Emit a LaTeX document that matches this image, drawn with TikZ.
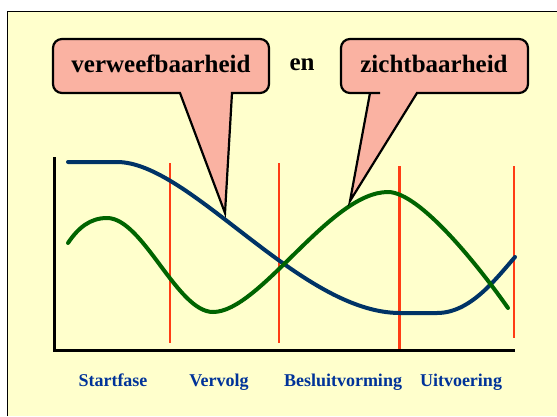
\documentclass[tikz,border=0pt]{standalone}
\usepackage{fontspec}
\setmainfont{Liberation Serif}
\definecolor{cream}{RGB}{255,255,204}
\definecolor{salmon}{RGB}{250,178,162}
\definecolor{navy}{RGB}{0,51,102}
\definecolor{dgreen}{RGB}{0,100,0}
\definecolor{redline}{RGB}{255,60,20}
\definecolor{labelblue}{RGB}{0,51,153}
\begin{document}
\begin{tikzpicture}[x=1pt,y=-1pt,
  callout/.style={draw=black,line width=2.2pt,fill=salmon,line join=miter},
  bigtext/.style={font=\bfseries\fontsize{25}{30}\selectfont,anchor=base,inner sep=0pt},
  phase/.style={font=\bfseries\fontsize{18}{22}\selectfont,text=labelblue,anchor=base,inner sep=0pt},
  divider/.style={draw=redline},
  curve/.style={line width=4pt,line cap=round}]
\useasboundingbox (0,0) rectangle (557,416);
% frame
\fill[cream] (7.5,11.5) rectangle (557,416);
\draw[line width=1.5pt] (7.5,416) -- (7.5,11.5) -- (557,11.5);
% axes
\draw[line width=3pt] (54,157) -- (54,350.5) -- (515,350.5);
% phase dividers
\draw[divider,line width=2pt] (170,163) -- (170,343);
\draw[divider,line width=1.2pt] (279,163) -- (279,343);
\draw[divider,line width=3pt] (399,166) -- (399,349);
\draw[divider,line width=1.2pt] (514,166) -- (514,338);
% curves
\draw[curve,draw=navy] (68,162) -- (117,162)
  .. controls (190,162) and (300,313) .. (400,313)
  -- (437,313)
  .. controls (470,313) and (495,280) .. (515,257);
\draw[curve,draw=dgreen] (68,243)
  .. controls (78,228) and (90,218) .. (107,218)
  .. controls (143,218) and (177,312) .. (213,312)
  .. controls (260,312) and (330,192) .. (388,192)
  .. controls (420,192) and (480,268) .. (508,308);
% callouts
\draw[callout] (165,93) [rounded corners=9pt] -- (53,93) -- (53,39) -- (269,39) -- (269,93) -- (250,93) [sharp corners] -- (232,93) -- (225,213) -- (180,93) -- cycle;
\draw[callout] (380,93) [rounded corners=9pt] -- (341,93) -- (341,39) -- (528,39) -- (528,93) -- (425,93) [sharp corners] -- (417,93) -- (350,201) -- (370,93) -- cycle;
\node[bigtext] (verw) at (161,72) {verweefbaarheid};
\node[bigtext] (en) at (302,70) {en};
\node[bigtext] (zicht) at (434,72) {zichtbaarheid};
% phase labels
\node[phase] (start) at (113,386) {Startfase};
\node[phase] (vervolg) at (219,386) {Vervolg};
\node[phase] (besluit) at (343,386) {Besluitvorming};
\node[phase] (uitv) at (461,386) {Uitvoering};
\end{tikzpicture}
\end{document}
